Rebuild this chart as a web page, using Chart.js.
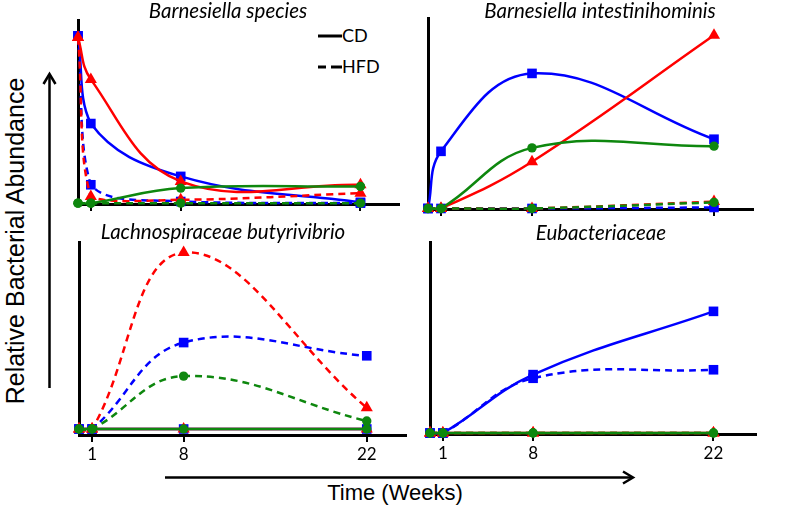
<!DOCTYPE html>
<html>
<head>
<meta charset="utf-8">
<script src="https://cdn.jsdelivr.net/npm/chart.js@4.4.1/dist/chart.umd.min.js"></script>
<style>
    body { margin: 0; background: #fff; }
    #fig { position: relative; width: 787px; height: 509px; overflow: hidden; font-family: 'Liberation Sans', Arial, sans-serif; }
    #fig canvas { position: absolute; }
    .title { position: absolute; width: 320px; text-align: center; white-space: nowrap; font-family: Lato, 'Open Sans', sans-serif; font-style: italic; font-size: 20.5px; line-height: 22px; }
    .lbl { position: absolute; white-space: nowrap; text-align: center; }
    .legend { position: absolute; font-family: Lato, 'Open Sans', sans-serif; font-size: 18px; line-height: 20px; }
</style>
</head>
<body>
<div id="fig">
    <svg width="787" height="509" style="position:absolute;left:0;top:0">
        <!-- y arrow -->
        <line x1="49.5" y1="388" x2="49.5" y2="75" stroke="#000" stroke-width="2.5" />
        <polyline points="43.5,84 49.5,74 55.5,84" fill="none" stroke="#000" stroke-width="2.5" />
        <!-- x arrow -->
        <line x1="165" y1="477.5" x2="632" y2="477.5" stroke="#000" stroke-width="2.5" />
        <polyline points="623,471.5 633,477.5 623,483.5" fill="none" stroke="#000" stroke-width="2.5" />
        <!-- legend samples -->
        <line x1="318" y1="36" x2="342" y2="36" stroke="#000" stroke-width="3" />
        <line x1="318" y1="67" x2="326" y2="67" stroke="#000" stroke-width="3" />
        <line x1="331" y1="67" x2="342" y2="67" stroke="#000" stroke-width="3" />
    </svg>
    <div class="legend" style="left:342px;top:25px">CD</div>
    <div class="legend" style="left:342px;top:56px">HFD</div>

    <div class="lbl" style="left:-165px;top:226px;width:360px;height:30px;line-height:30px;font-size:25px;transform:rotate(-90deg)">Relative Bacterial Abundance</div>
    <div class="lbl" style="left:295px;top:480px;width:200px;line-height:26px;font-size:22px">Time (Weeks)</div>
</div>

<script>
var weeks = [0, 1, 8, 22];
var tickWeeks = [1, 8, 22];
var titles = ["Barnesiella species", "Barnesiella intestinihominis", "Lachnospiraceae butyrivibrio", "Eubacteriaceae"];

// Barnesiella species
var speciesBlueCD = [100, 47.6, 16, 0.5];
var speciesBlueHFD = [100, 11, 1, 0];
var speciesRedCD = [99, 74, 13, 11];
var speciesRedHFD = [99, 4, 2, 6];
var speciesGreenCD = [0, 0, 9, 10];
var speciesGreenHFD = [0, 0, 0, 0];

// Barnesiella intestinihominis
var intestBlueCD = [0, 33, 78, 40];
var intestBlueHFD = [0, 0, 0, 0.6];
var intestRedCD = [0, 0, 27, 100];
var intestRedHFD = [0, 0, 0, 4];
var intestGreenCD = [0, 0, 35, 36];
var intestGreenHFD = [0, 0, 0, 3.5];

// Lachnospiraceae butyrivibrio
var lachnoBlueCD = [0, 0, 0, 0];
var lachnoBlueHFD = [0, 0, 49, 41.5];
var lachnoRedCD = [0, 0, 0, 0];
var lachnoRedHFD = [0, 0, 100, 12];
var lachnoGreenCD = [0, 0, 0, 0];
var lachnoGreenHFD = [0, 0, 30, 4.5];

// Eubacteriaceae
var eubacBlueCD = [0, 0, 48, 100];
var eubacBlueHFD = [0, 0, 45, 52];
var eubacRedCD = [0, 0, 0, 0];
var eubacRedHFD = [0, 0, 0, 0];
var eubacGreenCD = [0, 0, 0, 0];
var eubacGreenHFD = [0, 0, 0, 0];

var COLORS = {
    blue: '#0000ff',
    red: '#ff0000',
    green: '#0e870e'
};

var PAD = 12;
var X_AXIS_H = 30;

var panels = [
    { box: { left: 78, right: 399, top: 20, bottom: 204, xMax: 25, yMin: -0.5, yMax: 109.5 }, labels: false, zeroLine: false,
      titleX: 228, titleY: -1,
      series: [speciesBlueHFD, speciesBlueCD, speciesRedHFD, speciesRedCD, speciesGreenHFD, speciesGreenCD] },
    { box: { left: 428, right: 753, top: 18, bottom: 209, xMax: 25, yMin: -0.3, yMax: 110 }, labels: false, zeroLine: false,
      titleX: 600, titleY: -1,
      series: [intestBlueHFD, intestBlueCD, intestRedHFD, intestRedCD, intestGreenHFD, intestGreenCD] },
    { box: { left: 79, right: 406, top: 242, bottom: 435, xMax: 25, yMin: -3.4, yMax: 106 }, labels: true, zeroLine: true,
      titleX: 223, titleY: 220,
      series: [lachnoBlueHFD, lachnoBlueCD, lachnoRedHFD, lachnoRedCD, lachnoGreenHFD, lachnoGreenCD] },
    { box: { left: 430, right: 756, top: 242, bottom: 434, xMax: 25.3, yMin: -0.8, yMax: 157 }, labels: true, zeroLine: false,
      titleX: 601, titleY: 221,
      series: [eubacBlueHFD, eubacBlueCD, eubacRedHFD, eubacRedCD, eubacGreenHFD, eubacGreenCD] }
];

// same look for every panel: colour + diet decide the line and marker
var seriesStyle = [
    { color: COLORS.blue, shape: 'rect', radius: 6.8, dashed: true },
    { color: COLORS.blue, shape: 'rect', radius: 6.8, dashed: false },
    { color: COLORS.red, shape: 'triangle', radius: 7, dashed: true },
    { color: COLORS.red, shape: 'triangle', radius: 7, dashed: false },
    { color: COLORS.green, shape: 'circle', radius: 4.7, dashed: true },
    { color: COLORS.green, shape: 'circle', radius: 4.7, dashed: false }
];

var fig = document.getElementById('fig');

panels.forEach(function (p, idx) {
    var b = p.box;
    var canvas = document.createElement('canvas');
    var w = b.right - b.left + PAD * 2;
    var h = b.bottom - b.top + PAD + X_AXIS_H;
    canvas.width = w;
    canvas.height = h;
    canvas.style.left = (b.left - PAD) + 'px';
    canvas.style.top = (b.top - PAD) + 'px';
    canvas.style.width = w + 'px';
    canvas.style.height = h + 'px';
    fig.appendChild(canvas);

    var title = document.createElement('div');
    title.className = 'title';
    title.style.left = (p.titleX - 160) + 'px';
    title.style.top = p.titleY + 'px';
    title.textContent = titles[idx];
    fig.appendChild(title);

    var datasets = p.series.map(function (values, i) {
        var s = seriesStyle[i];
        return {
            data: values.map(function (v, j) { return { x: weeks[j], y: v }; }),
            borderColor: s.color,
            backgroundColor: s.color,
            borderWidth: 2.5,
            borderDash: s.dashed ? [7, 5] : [],
            pointStyle: s.shape,
            pointRadius: s.radius,
            pointBorderWidth: 0,
            pointBackgroundColor: s.color,
            tension: 0.4,
            clip: false,
            order: p.series.length - i
        };
    });

    new Chart(canvas, {
        type: 'line',
        data: { datasets: datasets },
        options: {
            responsive: false,
            animation: false,
            devicePixelRatio: 1,
            layout: { padding: { left: PAD, right: PAD, top: PAD, bottom: 0 } },
            plugins: { legend: { display: false }, tooltip: { enabled: false } },
            scales: {
                x: {
                    type: 'linear',
                    min: 0,
                    max: b.xMax,
                    afterBuildTicks: function (axis) {
                        axis.ticks = tickWeeks.map(function (v) { return { value: v }; });
                    },
                    afterFit: function (scale) { scale.height = X_AXIS_H; },
                    ticks: {
                        autoSkip: false,
                        maxRotation: 0,
                        padding: 2,
                        color: p.labels ? '#000' : 'rgba(0,0,0,0)',
                        font: { family: 'Lato, "Open Sans", sans-serif', size: 17 }
                    },
                    grid: { display: true, drawOnChartArea: false, drawTicks: true, tickLength: 7, color: '#000', lineWidth: 2 },
                    border: { display: true, color: '#000', width: 3 }
                },
                y: {
                    min: b.yMin,
                    max: b.yMax,
                    afterFit: function (scale) { scale.width = 0; },
                    ticks: { display: false },
                    grid: {
                        display: p.zeroLine,
                        drawTicks: false,
                        lineWidth: 1,
                        color: function (ctx) { return ctx.tick && ctx.tick.value === 0 ? '#8c8c8c' : 'rgba(0,0,0,0)'; }
                    },
                    border: { display: true, color: '#000', width: 3 }
                }
            }
        }
    });
});
</script>
</body>
</html>
